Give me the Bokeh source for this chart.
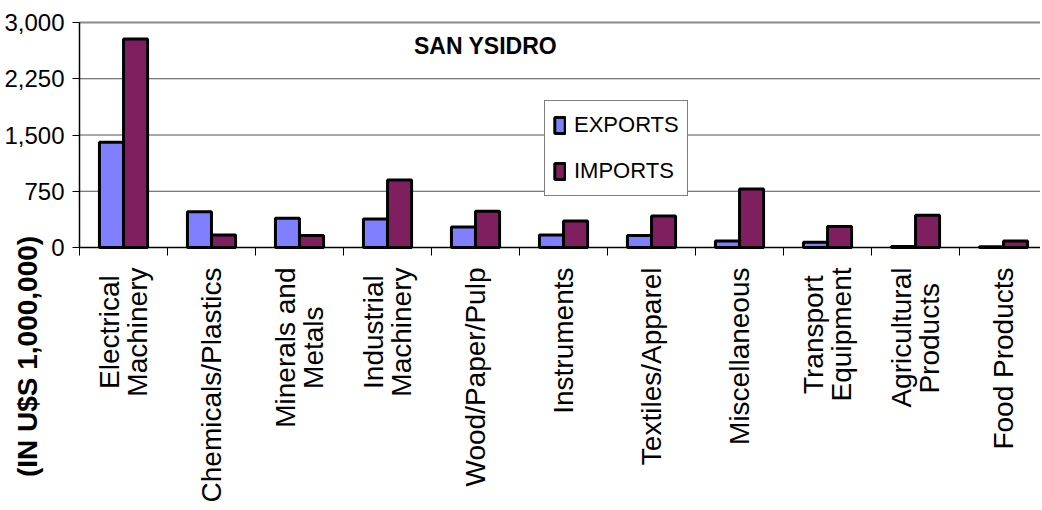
import numpy as np
from math import pi
from bokeh.plotting import figure
from bokeh.models import (Range1d, FixedTicker, NumeralTickFormatter,
                          Label, Legend, LegendItem)
from bokeh.embed import file_html
from bokeh.resources import INLINE

NB = "\u00a0"
categories = ["Electrical" + NB + "\nMachinery", "Chemicals/Plastics",
              "Minerals and\nMetals" + NB * 5, "Industrial" + NB + "\nMachinery",
              "Wood/Paper/Pulp", "Instruments", "Textiles/Apparel", "Miscellaneous",
              "Transport" + NB + "\nEquipment", "Agricultural\nProducts" + NB * 2,
              "Food Products"]
exports = [1405, 478, 390, 380, 275, 168, 160, 88, 70, 15, 10]
imports = [2780, 168, 160, 900, 482, 355, 420, 780, 280, 430, 88]
y_ticks = [0, 750, 1500, 2250, 3000]
title_text = "SAN YSIDRO"
y_label = "(IN U$S 1,000,000)"

# page geometry (pixels)
W, H = 1040, 502
AXIS_X = 79          # y-axis position from figure left
AXIS_Y = 247         # zero line from figure top
PX_CAT = 88          # pixels per category
PX_UNIT = 0.075      # pixels per million US$

n = len(categories)
centers = np.arange(n) + 0.5
bw = 0.273
FONT = "Liberation Sans"

x_start = -AXIS_X / PX_CAT
x_end = (W - AXIS_X) / PX_CAT
y_end = AXIS_Y / PX_UNIT
y_start = -(H - AXIS_Y) / PX_UNIT

p = figure(width=W, height=H, output_backend="svg", toolbar_location=None,
           x_range=Range1d(x_start, x_end), y_range=Range1d(y_start, y_end),
           min_border=0, outline_line_color=None,
           background_fill_color="white", border_fill_color="white")
p.xgrid.visible = False
p.ygrid.visible = False

# horizontal gridlines and top border of the plot area
p.segment(x0=0, x1=x_end, y0=y_ticks[1:-1], y1=y_ticks[1:-1],
          line_color="#505050", line_width=1, level="underlay")
p.segment(x0=0, x1=x_end, y0=y_ticks[-1:], y1=y_ticks[-1:],
          line_color="#8a8a8a", line_width=2, level="underlay")

r_exp = p.vbar(x=centers - 0.137, top=exports, width=bw, fill_color="#8080FF",
               line_color="black", line_width=3)
r_imp = p.vbar(x=centers + 0.137, top=imports, width=bw, fill_color="#801F5F",
               line_color="black", line_width=3)

xa = p.xaxis[0]
xa.fixed_location = 0
xa.bounds = (0, x_end)
xa.ticker = FixedTicker(ticks=list(centers), minor_ticks=list(np.arange(n + 1)))
xa.major_label_overrides = {float(c): lab for c, lab in zip(centers, categories)}
xa.major_label_orientation = pi / 2
xa.major_tick_out = 0
xa.major_tick_in = 0
xa.minor_tick_out = 8
xa.minor_tick_in = 0
xa.minor_tick_line_color = "black"
xa.minor_tick_line_width = 1
xa.axis_line_color = "black"
xa.axis_line_width = 1.5
xa.major_label_standoff = 12
xa.major_label_text_font = FONT
xa.major_label_text_font_size = "28px"
xa.major_label_text_color = "black"
xa.major_label_text_line_height = 0.93

ya = p.yaxis[0]
ya.fixed_location = 0
ya.bounds = (y_ticks[0], y_ticks[-1])
ya.ticker = FixedTicker(ticks=y_ticks)
ya.formatter = NumeralTickFormatter(format="0,0")
ya.major_tick_out = 7
ya.major_tick_in = 0
ya.minor_tick_out = 0
ya.minor_tick_in = 0
ya.axis_line_color = "black"
ya.axis_line_width = 1.5
ya.major_tick_line_color = "black"
ya.major_label_standoff = 8
ya.major_label_text_font = FONT
ya.major_label_text_font_size = "24px"
ya.major_label_text_color = "black"

p.add_layout(Label(x=485, y=H - 45, x_units="screen", y_units="screen", text=title_text,
                   text_font=FONT, text_font_style="bold", text_font_size="23px",
                   text_align="center", text_baseline="middle", text_color="black"))

p.add_layout(Label(x=27, y=H - 356, x_units="screen", y_units="screen", text=y_label,
                   angle=pi / 2, text_font=FONT, text_font_style="bold",
                   text_font_size="28px", text_align="center", text_baseline="middle",
                   text_color="black"))

legend = Legend(items=[LegendItem(label="EXPORTS", renderers=[r_exp]),
                       LegendItem(label="IMPORTS", renderers=[r_imp])],
                location=(544, H - 196), orientation="vertical",
                padding=8, spacing=14, label_height=32, glyph_height=20, glyph_width=13,
                label_standoff=8, margin=0,
                label_text_font=FONT, label_text_font_size="22px",
                label_text_color="black",
                border_line_color="black", border_line_width=1,
                background_fill_color="white", background_fill_alpha=1)
p.add_layout(legend)

open("out.html", "w").write(file_html(p, INLINE))
